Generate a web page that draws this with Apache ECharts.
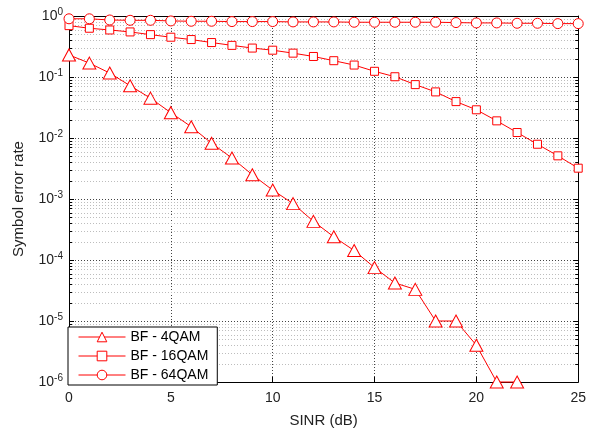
<!DOCTYPE html>
<html><head><meta charset="utf-8">
<script src="https://cdn.jsdelivr.net/npm/echarts@6/dist/echarts.min.js"></script>
<style>html,body{margin:0;padding:0;background:#fff}#c{width:589px;height:433px}</style>
</head><body><div id="c"></div>
<script>
const sinr = [0,1,2,3,4,5,6,7,8,9,10,11,12,13,14,15,16,17,18,19,20,21,22,23,24,25];
const ser4QAM = [0.23,0.169,0.116,0.072,0.045,0.026,0.0153,0.0082,0.0047,0.0025,0.0014,0.00084,0.00043,0.00024,0.000143,0.000075,0.000042,0.000033,0.00001,0.00001,0.000004,0.000001,0.000001];
const ser16QAM = [0.695,0.63,0.59,0.548,0.495,0.449,0.411,0.367,0.33,0.298,0.275,0.246,0.217,0.185,0.157,0.124,0.101,0.075,0.057,0.0395,0.029,0.0191,0.0123,0.0079,0.0051,0.0032];
const ser64QAM = [0.9,0.9,0.86,0.85,0.85,0.83,0.82,0.82,0.81,0.81,0.81,0.8,0.8,0.8,0.79,0.79,0.79,0.79,0.79,0.78,0.77,0.77,0.76,0.76,0.75,0.75];
const seriesNames = ['BF - 4QAM','BF - 16QAM','BF - 64QAM'];
const yMinorTicks = [];
for (let k = -6; k < 0; k++) for (let m = 2; m <= 9; m++) yMinorTicks.push(m * Math.pow(10, k));

const chart = echarts.init(document.getElementById('c'));
const red = '#ff0000';
const font = 'Liberation Sans, Arial, sans-serif';
const axisLine = {show:true, onZero:false, lineStyle:{color:'#000', width:1}};
const majorSplit = {show:true, lineStyle:{color:'#444', type:[1,2], width:1}};
function pair(v, i){ return [sinr[i], v]; }
function lineSeries(name, data, symbol, size){
  return {type:'line', name, data:data.map(pair), symbol, symbolSize:size, clip:false, z:5,
    lineStyle:{color:red, width:1}, itemStyle:{color:'#fff', borderColor:red, borderWidth:1},
    showAllSymbol:true, animation:false};
}
chart.setOption({
  animation:false,
  textStyle:{fontFamily:font},
  grid:{left:69, right:7, top:16, bottom:49},
  legend:{data:seriesNames, orient:'vertical', left:68, bottom:48, padding:[3,9,3,10],
    itemWidth:47, itemHeight:12, itemGap:5, borderColor:'#000', borderWidth:1, backgroundColor:'#fff',
    lineStyle:{width:1, color:red}, itemStyle:{borderWidth:1, borderColor:red, color:'#fff'},
    textStyle:{fontSize:14, lineHeight:14, color:'#000', fontFamily:font}},
  xAxis:[
    {type:'value', min:0, max:25, interval:5, position:'bottom', axisLine,
      axisTick:{inside:true, length:5, lineStyle:{color:'#000'}},
      axisLabel:{fontSize:14, color:'#222', margin:9, fontFamily:font},
      splitLine:majorSplit,
      name:'SINR (dB)', nameLocation:'middle', nameGap:31, nameTextStyle:{fontSize:15, color:'#222', fontFamily:font}},
    {type:'value', min:0, max:25, interval:5, position:'top', axisLine,
      axisTick:{inside:true, length:5, lineStyle:{color:'#000'}}, axisLabel:{show:false}, splitLine:{show:false}}
  ],
  yAxis:[
    {type:'log', logBase:10, min:1e-6, max:1, splitNumber:6, position:'left', axisLine,
      axisTick:{inside:true, length:5, lineStyle:{color:'#000'}},
      axisLabel:{margin:6, color:'#222', fontFamily:font,
        formatter:function(v){ const e = Math.round(Math.log10(v)); return '{b|10}{e|' + e + '}'; },
        rich:{b:{fontSize:14, color:'#222', fontFamily:font}, e:{fontSize:10, color:'#222', fontFamily:font, padding:[0,0,8,0]}}},
      splitLine:majorSplit,
      name:'Symbol error rate', nameLocation:'middle', nameGap:43, nameTextStyle:{fontSize:15, color:'#222', fontFamily:font}},
    {type:'log', logBase:10, min:1e-6, max:1, splitNumber:6, position:'right', axisLine,
      axisTick:{inside:true, length:5, lineStyle:{color:'#000'}}, axisLabel:{show:false}, splitLine:{show:false}}
  ],
  series:[
    {type:'custom', silent:true, z:1, clip:false, xAxisIndex:0, yAxisIndex:0, encode:{x:0, y:1},
      data:yMinorTicks.map(v => [0, v]),
      renderItem:function(params, api){
        const cs = params.coordSys;
        const y = Math.round(api.coord([0, api.value(1)])[1]) + 0.5;
        return {type:'group', children:[
          {type:'line', shape:{x1:cs.x, y1:y, x2:cs.x+cs.width, y2:y}, style:{stroke:'#bdbdbd', lineWidth:1, lineDash:[1,2]}},
          {type:'line', shape:{x1:cs.x, y1:y, x2:cs.x+3, y2:y}, style:{stroke:'#000', lineWidth:1}},
          {type:'line', shape:{x1:cs.x+cs.width-3, y1:y, x2:cs.x+cs.width, y2:y}, style:{stroke:'#000', lineWidth:1}}
        ]};
      }},
    lineSeries(seriesNames[0], ser4QAM, 'triangle', [13,12]),
    lineSeries(seriesNames[1], ser16QAM, 'rect', 8),
    lineSeries(seriesNames[2], ser64QAM, 'circle', 10)
  ]
});
</script></body></html>
